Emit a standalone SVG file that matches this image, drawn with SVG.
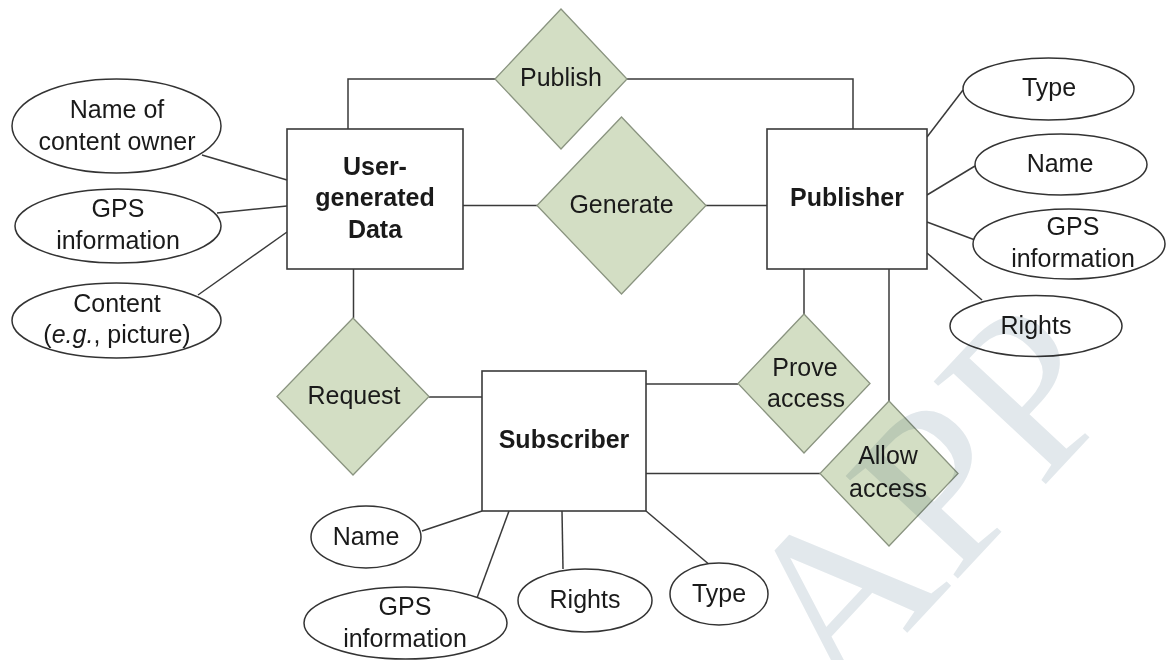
<svg xmlns="http://www.w3.org/2000/svg" width="1166" height="660" viewBox="0 0 1166 660">
<style>
.bg{fill:#ffffff}
.ent{fill:#ffffff;stroke:#3a3a3a;stroke-width:1.6}
.rel{fill:#d3dec4;stroke:#8a9480;stroke-width:1.3}
.att{fill:#ffffff;stroke:#333333;stroke-width:1.5}
.con line,.con polyline{stroke:#3a3a3a;stroke-width:1.5;fill:none}
text{font-family:"Liberation Sans",Arial,sans-serif;font-size:25px;fill:#1a1a1a;text-anchor:middle}
.b{font-weight:bold}
.wm{font-family:"Liberation Serif","Times New Roman",serif;font-size:232px;fill:#e2e8ec;text-anchor:start;mix-blend-mode:multiply}
</style>
<rect class="bg" x="0" y="0" width="1166" height="660"/>
<g id="connectors" class="con">
<polyline points="348,129 348,79 495,79"/>
<polyline points="627,79 853,79 853,129"/>
<line x1="463" y1="205.5" x2="537" y2="205.5"/>
<line x1="706" y1="205.5" x2="767" y2="205.5"/>
<line x1="353.5" y1="269" x2="353.5" y2="318"/>
<line x1="429" y1="397" x2="482" y2="397"/>
<line x1="804" y1="269" x2="804" y2="314"/>
<line x1="738" y1="384" x2="646" y2="384"/>
<line x1="889" y1="269" x2="889" y2="401"/>
<line x1="820" y1="473.5" x2="646" y2="473.5"/>
<line x1="202" y1="155" x2="287" y2="180"/>
<line x1="217" y1="213" x2="287" y2="206"/>
<line x1="198" y1="295" x2="287" y2="232"/>
<line x1="927" y1="137" x2="963" y2="90"/>
<line x1="927" y1="195" x2="975" y2="166"/>
<line x1="927" y1="222" x2="975" y2="240"/>
<line x1="927" y1="253" x2="982" y2="300"/>
<line x1="482" y1="511" x2="422" y2="531"/>
<line x1="509" y1="511" x2="477" y2="598"/>
<line x1="562" y1="511" x2="563" y2="569"/>
<line x1="646" y1="511" x2="711" y2="566"/>
</g>
<g id="user-generated-data">
<rect class="ent" x="287" y="129" width="176" height="140"/>
<text class="b" x="375" y="175">User-</text>
<text class="b" x="375" y="206">generated</text>
<text class="b" x="375" y="238">Data</text>
</g>
<g id="publisher">
<rect class="ent" x="767" y="129" width="160" height="140"/>
<text class="b" x="847" y="206">Publisher</text>
</g>
<g id="subscriber">
<rect class="ent" x="482" y="371" width="164" height="140"/>
<text class="b" x="564" y="448">Subscriber</text>
</g>
<g id="publish">
<polygon class="rel" points="561,9 627,79 561,149 495,79"/>
<text x="561" y="86">Publish</text>
</g>
<g id="generate">
<polygon class="rel" points="621.5,117 706,205.5 621.5,294 537,205.5"/>
<text x="621.5" y="213">Generate</text>
</g>
<g id="request">
<polygon class="rel" points="353,318 429,396.5 353,475 277,396.5"/>
<text x="354" y="404">Request</text>
</g>
<g id="prove-access">
<polygon class="rel" points="804,314 870,383.5 804,453 738,383.5"/>
<text x="805" y="376">Prove</text>
<text x="806" y="407">access</text>
</g>
<g id="allow-access">
<polygon class="rel" points="889,401 958,473.5 889,546 820,473.5"/>
<text x="888" y="464">Allow</text>
<text x="888" y="497">access</text>
</g>
<g id="attr-name-of-content-owner">
<ellipse class="att" cx="116.5" cy="126" rx="104.5" ry="47"/>
<text x="117" y="118">Name of</text>
<text x="117" y="150">content owner</text>
</g>
<g id="attr-ugd-gps">
<ellipse class="att" cx="118" cy="226" rx="103" ry="37"/>
<text x="118" y="217">GPS</text>
<text x="118" y="249">information</text>
</g>
<g id="attr-content">
<ellipse class="att" cx="116.5" cy="320.5" rx="104.5" ry="37.5"/>
<text x="117" y="312">Content</text>
<text x="117" y="343">(<tspan font-style="italic">e.g.</tspan>, picture)</text>
</g>
<g id="attr-pub-type">
<ellipse class="att" cx="1048.5" cy="89" rx="85.5" ry="31"/>
<text x="1049" y="96">Type</text>
</g>
<g id="attr-pub-name">
<ellipse class="att" cx="1061" cy="164.5" rx="86" ry="30.5"/>
<text x="1060" y="172">Name</text>
</g>
<g id="attr-pub-gps">
<ellipse class="att" cx="1069" cy="244" rx="96" ry="35"/>
<text x="1073" y="235">GPS</text>
<text x="1073" y="267">information</text>
</g>
<g id="attr-pub-rights">
<ellipse class="att" cx="1036" cy="326" rx="86" ry="30.5"/>
<text x="1036" y="334">Rights</text>
</g>
<g id="attr-sub-name">
<ellipse class="att" cx="366" cy="537" rx="55" ry="31"/>
<text x="366" y="545">Name</text>
</g>
<g id="attr-sub-gps">
<ellipse class="att" cx="405.5" cy="623" rx="101.5" ry="36"/>
<text x="405" y="615">GPS</text>
<text x="405" y="647">information</text>
</g>
<g id="attr-sub-rights">
<ellipse class="att" cx="585" cy="600.5" rx="67" ry="31.5"/>
<text x="585" y="608">Rights</text>
</g>
<g id="attr-sub-type">
<ellipse class="att" cx="719" cy="594" rx="49" ry="31"/>
<text x="719" y="602">Type</text>
</g>
<text class="wm" transform="translate(838,707) rotate(-47)">APP</text>
</svg>
